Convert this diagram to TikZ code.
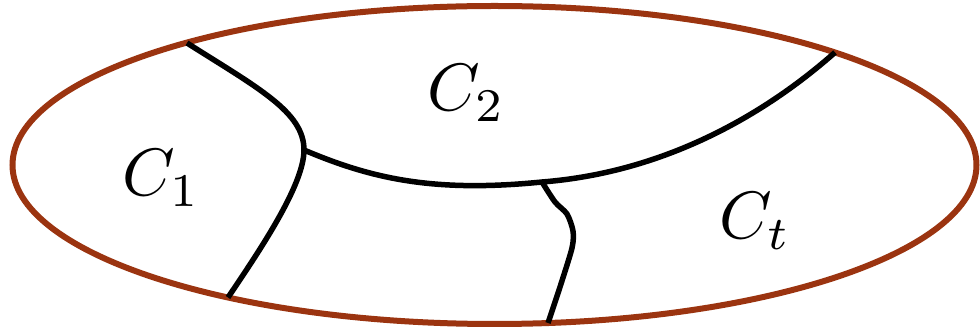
\documentclass[tikz,border=0pt]{standalone}
\definecolor{rim}{RGB}{155,52,16}
\tikzset{
  rimline/.style={draw=rim,line width=6pt},
  cut/.style={draw=black,line width=5.5pt,line join=round},
  lab/.style={inner sep=0pt,anchor=base west}
}
\newcommand{\biglab}[1]{\scalebox{6.7}{$#1$}}
\begin{document}
\begin{tikzpicture}[x=1pt,y=-1pt]
\useasboundingbox (0,0) rectangle (980,328);
\draw[rimline] (494.5,165) ellipse [x radius=482, y radius=159];
\coordinate (t1) at (187,43);
\coordinate (j1) at (304,150);
\coordinate (b1) at (228,297.5);
\coordinate (t2) at (835,52.4);
\coordinate (j2) at (542,182);
\coordinate (b2) at (548,323);
\draw[cut] (t1) .. controls (258,88) and (304,112) .. (j1)
  .. controls (304,185) and (260,250) .. (b1);
\draw[cut] (j1) .. controls (370,178) and (432,193) .. (j2)
  .. controls (670,172) and (770,110) .. (t2);
\draw[cut] plot[smooth,tension=0.45] coordinates {(j2) (555,202) (567,214) (573,231) (572,248) (560,287) (b2)};
\node[lab] (c1) at (122,196) {\biglab{C_1}};
\node[lab] (c2) at (427,111) {\biglab{C_2}};
\node[lab] (ct) at (719,239) {\biglab{C_t}};
\end{tikzpicture}
\end{document}
